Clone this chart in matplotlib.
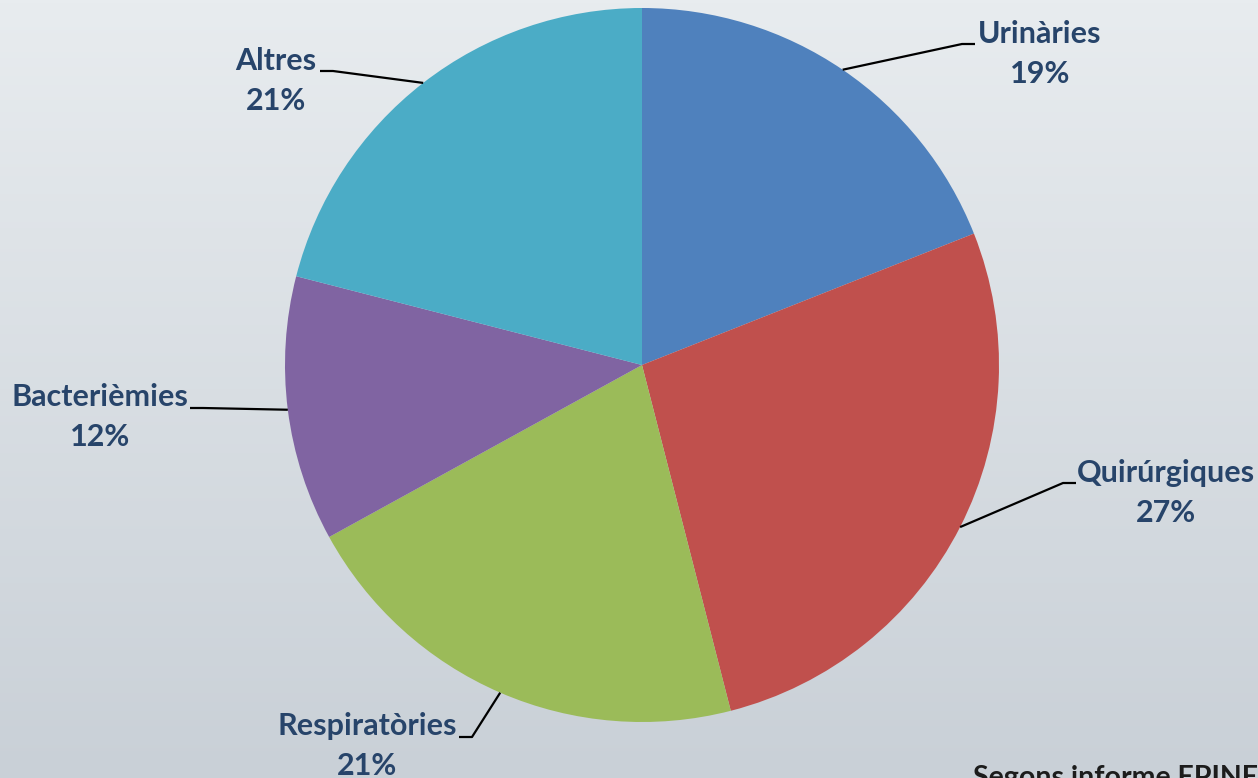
import numpy as np
import matplotlib
matplotlib.use('Agg')
import matplotlib.pyplot as plt
from matplotlib.colors import LinearSegmentedColormap

# Dades: tipus d'infecció nosocomial (%)
categories = ['Urinàries', 'Quirúrgiques', 'Respiratòries', 'Bacterièmies', 'Altres']
percentatges = [19, 27, 21, 12, 21]
colors = ['#4f81bd', '#c0504d', '#9bbb59', '#8064a2', '#4bacc6']

# Posició de cada etiqueta (centre del bloc de text) i final de la línia guia
label_pos = [(1040, 54), (1166, 493), (367, 746), (100, 417), (276, 81)]
leader_end = [(975, 44), (1076, 483), (459, 737), (190, 408), (320, 71)]

W, H = 1258, 778
centre = (642, 365)
radi = 357

fig = plt.figure(figsize=(W / 100, H / 100), dpi=100)
ax = fig.add_axes([0, 0, 1, 1])

# Fons amb degradat vertical
fons = LinearSegmentedColormap.from_list('fons', ['#e8ecef', '#c9d0d7'])
grad = np.linspace(0, 1, 256).reshape(-1, 1)
ax.imshow(grad, cmap=fons, extent=[0, W, H, 0], aspect='auto', zorder=0)

# L'eix y està invertit, per això l'angle va en sentit antihorari
wedges, _ = ax.pie(percentatges, colors=colors, startangle=-90, counterclock=True,
                   center=centre, radius=radi, frame=True,
                   wedgeprops=dict(linewidth=0))
ax.set_xlim(0, W)
ax.set_ylim(H, 0)
ax.set_aspect('equal')
ax.axis('off')

text_color = '#27446a'
for w, cat, pct, (lx, ly), (ex, ey) in zip(wedges, categories, percentatges,
                                           label_pos, leader_end):
    ang = np.deg2rad((w.theta1 + w.theta2) / 2)
    px = centre[0] + radi * np.cos(ang)
    py = centre[1] + radi * np.sin(ang)
    colze = ex + (-13 if ex > px else 13)
    ax.plot([px, colze, ex], [py, ey, ey], color='black', lw=1.6, zorder=3,
            solid_capstyle='butt')
    ax.text(lx, ly, f'{cat}\n{pct}%', ha='center', va='center',
            fontsize=22, fontweight='bold', family='Lato', color=text_color,
            linespacing=1.5, zorder=4)

ax.text(973, 765, 'Segons informe EPINE', ha='left', va='top', fontsize=20.5,
        fontweight='bold', family='Lato', color='#1c1c1c', clip_on=False)

fig.savefig('out.png', dpi=100)
